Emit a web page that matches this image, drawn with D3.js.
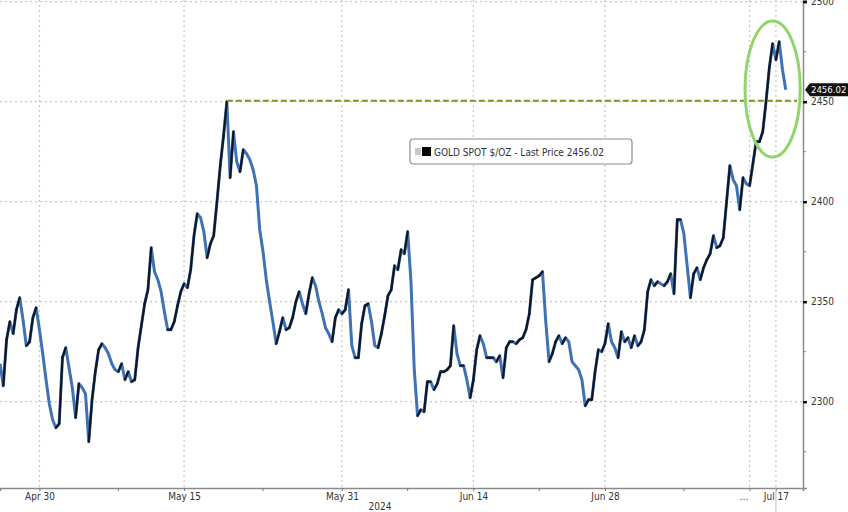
<!DOCTYPE html>
<html><head><meta charset="utf-8">
<script src="https://cdn.jsdelivr.net/npm/d3@7"></script>
<style>
html,body{margin:0;padding:0;background:#fff;}
svg{display:block;font-family:"DejaVu Sans Condensed","Liberation Sans Narrow","DejaVu Sans",sans-serif;}
</style></head><body>
<svg id="chart" width="848" height="512"></svg>
<script>
// Gold spot, one observation every quarter trading day starting Thu Apr 25 2024 (weekends removed)
const price = [
2319,2308,2331,2340,2334,2346,2352,2341,2328,2330,2342,2347,2336,2324,2311,2299,2291,2287,2289,2322,
2327,2317,2307,2292,2309,2307,2304,2280,2301,2315,2326,2329,2327,2324,2319,2316,2315,2319,2311,2315,
2310,2311,2327,2338,2349,2356,2377,2365,2361,2355,2345,2336,2336,2340,2348,2355,2359,2357,2366,2383,
2394,2392,2385,2372,2379,2383,2400,2418,2433,2450,2412,2435,2420,2415,2426,2424,2421,2416,2408,2386,
2375,2361,2350,2340,2329,2335,2342,2336,2337,2342,2350,2355,2349,2344,2354,2362,2358,2350,2344,2337,
2334,2330,2342,2346,2344,2346,2356,2328,2322,2322,2339,2348,2349,2340,2328,2327,2334,2343,2353,2356,
2368,2366,2376,2374,2385,2360,2316,2293,2296,2295,2310,2310,2306,2309,2315,2315,2316,2318,2338,2324,
2318,2318,2311,2302,2311,2326,2333,2329,2322,2322,2322,2320,2323,2312,2327,2330,2330,2329,2331,2332,
2336,2344,2361,2362,2363,2365,2340,2320,2324,2330,2333,2329,2332,2330,2320,2318,2316,2311,2298,2301,
2301,2315,2326,2325,2329,2339,2330,2327,2322,2335,2330,2332,2327,2333,2328,2330,2336,2355,2361,2358,
2360,2359,2358,2360,2364,2354,2391,2391,2384,2368,2352,2364,2367,2361,2367,2371,2374,2383,2377,2378,
2382,2400,2418,2411,2408,2396,2412,2409,2408,2419,2430,2430,2435,2450,2467,2479,2471,2480,2466,2456.02
];
const stepDays = 0.25;
const tickDays = [3, 14, 26, 36, 46, 57, 59];
const tickLabels = ["Apr 30", "May 15", "May 31", "Jun 14", "Jun 28", "…", "Jul 17"];
const minorTickDays = [9, 20, 31, 41, 52];
const yTicks = [2300, 2350, 2400, 2450, 2500];
const yMinorTicks = [2275, 2325, 2375, 2425, 2475];
const lastPrice = 2456.02;
const resistance = [2450.5];
const resistanceSpan = [17.25, 60.6];
const highlight = [{t: 58.75, v: 2456.3, dt: 2.1, dv: 34}];
const yearLabel = "2024";
const legendLabel = "GOLD SPOT $/OZ - Last Price 2456.02";

const W = 848, H = 512;
const plotW = 803, plotH = 488;
const svg = d3.select("#chart");

const x = d3.scaleLinear().domain([0, 61.06]).range([0, plotW]);
const y = d3.scaleLinear().domain([2256.85, 2500.85]).range([plotH, 0]);

const data = price.map((v, i) => ({t: i * stepDays, v}));

// grid
const grid = svg.append("g");
grid.selectAll("line.h").data(yTicks).join("line")
  .attr("x1", 0).attr("x2", plotW)
  .attr("y1", d => y(d)).attr("y2", d => y(d))
  .attr("stroke", "#c8c8c8").attr("stroke-width", 1.3).attr("stroke-dasharray", "2,3");
grid.selectAll("line.v").data(tickDays).join("line")
  .attr("x1", d => x(d)).attr("x2", d => x(d))
  .attr("y1", 0).attr("y2", plotH)
  .attr("stroke", "#c8c8c8").attr("stroke-width", 1.3).attr("stroke-dasharray", "2,3");

// price line: segments coloured by direction
const line = d3.line().x(d => x(d.t)).y(d => y(d.v));
const segs = d3.pairs(data);
svg.append("path").datum(data).attr("d", line)
  .attr("fill", "none").attr("stroke", "#3f72b4").attr("stroke-width", 3).attr("stroke-linejoin", "round");
svg.append("g").selectAll("path").data(segs.filter(p => p[1].v >= p[0].v)).join("path")
  .attr("d", p => line(p))
  .attr("fill", "none").attr("stroke", "#121620").attr("stroke-width", 2.2).attr("stroke-linecap", "round");

// resistance
svg.selectAll("line.res").data(resistance).join("line")
  .attr("x1", x(resistanceSpan[0])).attr("x2", x(resistanceSpan[1]))
  .attr("y1", d => y(d)).attr("y2", d => y(d))
  .attr("stroke", "#7f9420").attr("stroke-width", 2).attr("stroke-dasharray", "6,3");

// highlight ellipse
svg.selectAll("ellipse").data(highlight).join("ellipse")
  .attr("cx", d => x(d.t)).attr("cy", d => y(d.v))
  .attr("rx", d => x(d.dt) - x(0)).attr("ry", d => y(d.v - d.dv) - y(d.v))
  .attr("fill", "none").attr("stroke", "#92d46c").attr("stroke-width", 3);

// axes
const yAxis = d3.axisRight(y).tickValues(yTicks).tickSize(4).tickPadding(4).tickFormat(d3.format("d"));
const ya = svg.append("g").attr("transform", `translate(${plotW},0)`).call(yAxis);
ya.select(".domain").attr("stroke", "#8a8a8a").attr("stroke-width", 1.5);
ya.selectAll(".tick line").attr("stroke", "#111").attr("stroke-width", 2.5);
ya.selectAll(".tick text").attr("font-size", 10).attr("fill", "#333")
  .attr("font-family", "DejaVu Sans Condensed, Liberation Sans Narrow, sans-serif");
svg.append("g").selectAll("line").data(yMinorTicks).join("line")
  .attr("x1", plotW).attr("x2", plotW + 3)
  .attr("y1", d => y(d)).attr("y2", d => y(d))
  .attr("stroke", "#888").attr("stroke-width", 1);

const xAxis = d3.axisBottom(x).tickValues(tickDays).tickSize(3).tickPadding(2)
  .tickFormat((d, i) => tickLabels[i]);
const xa = svg.append("g").attr("transform", `translate(0,${plotH})`).call(xAxis);
xa.select(".domain").attr("stroke", "#8a8a8a").attr("stroke-width", 1.5);
xa.selectAll(".tick line").attr("stroke", "#777");
xa.selectAll(".tick text").attr("font-size", 10).attr("fill", "#333")
  .attr("font-family", "DejaVu Sans Condensed, Liberation Sans Narrow, sans-serif");
xa.selectAll(".tick text").filter((d, i) => tickLabels[i] === "…").attr("dx", -6);
svg.append("g").selectAll("line").data(minorTickDays).join("line")
  .attr("x1", d => x(d)).attr("x2", d => x(d))
  .attr("y1", plotH).attr("y2", plotH + 3)
  .attr("stroke", "#777");

// cursor line below axis at last date
svg.append("line").attr("x1", x(59)).attr("x2", x(59)).attr("y1", plotH).attr("y2", H)
  .attr("stroke", "#bdbdbd").attr("stroke-width", 1);

svg.append("text").attr("x", x(28.9)).attr("y", 510).attr("text-anchor", "middle")
  .attr("font-size", 10).attr("fill", "#333").text(yearLabel);

// last price tag
const ly = y(lastPrice);
svg.append("path")
  .attr("d", `M${plotW + 2},${ly} L${plotW + 7},${ly - 6.5} L${W},${ly - 6.5} L${W},${ly + 6.5} L${plotW + 7},${ly + 6.5} Z`)
  .attr("fill", "#111");
svg.append("text").attr("x", plotW + 8).attr("y", ly + 3.5)
  .attr("font-size", 9.5).attr("fill", "#fff").text(lastPrice.toFixed(2));

// legend
const lg = svg.append("g").attr("transform", "translate(410,139)");
lg.append("rect").attr("width", 222).attr("height", 25).attr("rx", 3)
  .attr("fill", "#fff").attr("stroke", "#8c8c8c").attr("stroke-width", 1.2);
lg.append("rect").attr("x", 5).attr("y", 9).attr("width", 6).attr("height", 7).attr("fill", "#c8c8c8");
lg.append("rect").attr("x", 12).attr("y", 8).attr("width", 9).attr("height", 9).attr("fill", "#000");
lg.append("text").attr("x", 24).attr("y", 16.5).attr("font-size", 10).attr("fill", "#333").text(legendLabel);
</script>
</body></html>
